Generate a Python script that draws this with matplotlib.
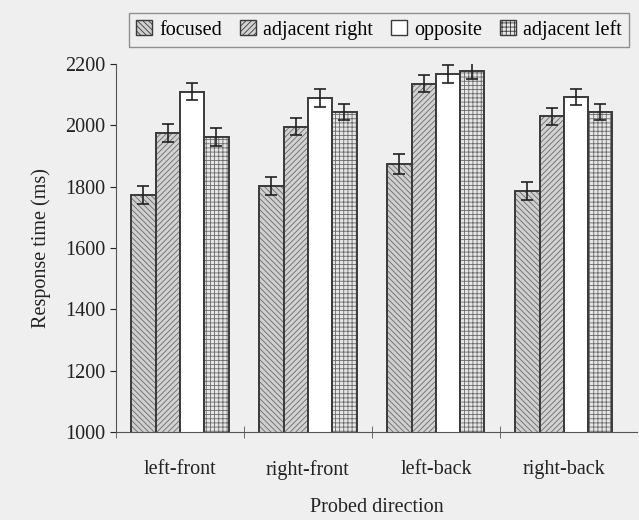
import numpy as np
import matplotlib.pyplot as plt

plt.rcParams['font.family'] = ['Liberation Serif', 'DejaVu Serif']
plt.rcParams['hatch.linewidth'] = 0.6

directions = ['left-front', 'right-front', 'left-back', 'right-back']
conditions = ['focused', 'adjacent right', 'opposite', 'adjacent left']

focused = [1773, 1802, 1874, 1786]
adj_right = [1975, 1995, 2135, 2030]
opposite = [2109, 2089, 2167, 2092]
adj_left = [1962, 2043, 2177, 2043]

err_focused = [30, 30, 32, 28]
err_adj_right = [28, 28, 28, 28]
err_opposite = [28, 28, 30, 26]
err_adj_left = [28, 26, 26, 26]

series = [focused, adj_right, opposite, adj_left]
errors = [err_focused, err_adj_right, err_opposite, err_adj_left]
faces = ['#cfcfcf', '#d2d2d2', 'white', '#e6e6e6']
hatches = ['\\\\\\\\\\\\', '//////', None, '++++']

bg = '#efefef'
fs = 14.5
fig = plt.figure(figsize=(6.39, 5.2), dpi=100, facecolor=bg)
ax = fig.add_axes([0.1815, 0.169, 0.815, 0.708], facecolor=bg)

x = np.arange(len(directions))
w = 0.19
for i in range(4):
    pos = x + (i - 1.5) * w
    # hatch layer (lighter lines), then a dark outline on top
    ax.bar(pos, series[i], w, color=faces[i], edgecolor='#6a6a6a',
           linewidth=0, hatch=hatches[i], label=conditions[i])
    ax.bar(pos, series[i], w, yerr=errors[i], fill=False,
           edgecolor='#3a3a3a', linewidth=1.4,
           error_kw=dict(ecolor='#222222', elinewidth=1.2, capsize=4, capthick=1.2))

ax.set_ylim(1000, 2200)
ax.set_yticks(range(1000, 2201, 200))
ax.set_xlim(-0.5, 3.57)
ax.set_xticks(x)
ax.set_xticklabels(directions)
ax.set_xticks([-0.5, 0.5, 1.5, 2.5], minor=True)
ax.tick_params(axis='x', which='major', length=0, pad=20, labelsize=fs, colors='#222222')
ax.tick_params(axis='x', which='minor', length=8, direction='inout', color='#555555')
ax.tick_params(axis='y', length=4, direction='out', labelsize=fs, colors='#222222')
for s in ['top', 'right']:
    ax.spines[s].set_visible(False)
ax.spines['left'].set_color('#555555')
ax.spines['bottom'].set_color('#555555')

ax.set_xlabel('Probed direction', fontsize=fs, color='#222222', labelpad=13)
ax.set_ylabel('Response time (ms)', fontsize=fs, color='#222222', labelpad=10)

handles, labels = ax.get_legend_handles_labels()
leg = ax.legend(handles, labels, ncol=4, loc='lower center', bbox_to_anchor=(0.505, 1.047),
                frameon=True, fancybox=False, edgecolor='#777777',
                fontsize=fs, handlelength=0.8, handleheight=0.8,
                handletextpad=0.35, columnspacing=0.9, borderpad=0.35,
                borderaxespad=0, facecolor=bg)
for h in leg.legend_handles:
    h.set_edgecolor('#3a3a3a')
    h.set_linewidth(1.0)

fig.savefig('out.png', dpi=100, facecolor=bg)
